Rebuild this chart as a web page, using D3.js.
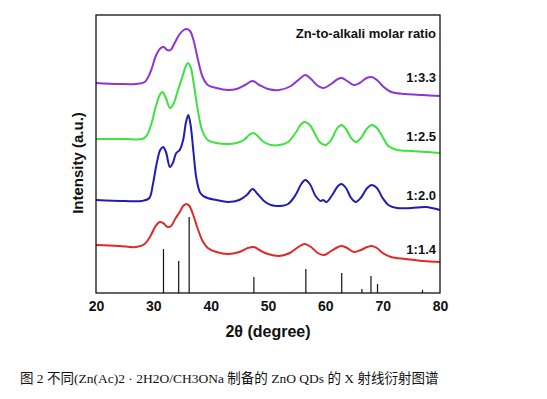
<!DOCTYPE html>
<html>
<head>
<meta charset="utf-8">
<script src="https://cdn.jsdelivr.net/npm/d3@7"></script>
<style>
  body { margin: 0; background: #fff; }
  svg text { font-family: "Liberation Sans", Arial, sans-serif; font-weight: bold; fill: #111; }
  .caption { font-family: "Liberation Serif", "Noto Sans CJK SC", serif; font-weight: normal; fill: #111; }
</style>
</head>
<body>
<svg id="chart" width="547" height="399"></svg>
<script>
// XRD patterns of ZnO QDs, one curve per Zn-to-alkali ratio.
// Each curve: [2theta, intensity (a.u., offset stacked)]
const purple33 = [[20,210],[24,209],[27,209],[28.5,211],[29.5,221],[30.5,238],[31.3,245],[31.8,246],[32.4,243],[33,243],[33.8,251],[34.6,259],[35.3,263],[35.8,264],[36.4,262],[37,253],[37.8,233],[38.6,216],[39.5,208],[41,205],[43,203],[44.5,204],[46,208],[47.3,212],[48.5,208],[50,204],[52,203],[54,207],[55.5,214],[56.5,218],[57.5,214],[58.5,208],[59.7,205],[61,209],[62.2,214],[62.9,215],[63.8,212],[65,208],[66,210],[67.2,215],[68.1,216],[69,213],[70,207],[71.5,201],[74,199],[77,198],[80,197]];
const green25 = [[20,154],[25,154],[28,154],[28.8,157],[29.6,168],[30.5,188],[31.2,199],[31.6,201],[32.2,195],[32.9,185],[33.5,189],[34.3,203],[35,215],[35.6,226],[36,230],[36.5,226],[37,211],[37.7,185],[38.5,163],[39.5,153],[41,150],[43,149],[44.5,150],[45.8,153],[46.7,158],[47.4,160],[48.2,157],[49,152],[50.5,148],[52,148],[53.5,151],[54.8,160],[55.8,169],[56.5,171],[57.3,168],[58.2,159],[59,151],[60,148],[61,153],[62,164],[62.8,168],[63.6,164],[64.5,155],[65.3,151],[66.2,155],[67.2,164],[68.1,168],[69,165],[70,156],[71,147],[72.5,143],[75,142],[78,141],[80,140]];
const blue20 = [[20,93],[25,92],[28,92],[29.3,95],[29.9,108],[30.6,130],[31.2,143],[31.7,146],[32.2,141],[32.9,126],[33.4,130],[34,140],[34.6,143],[35.2,153],[35.7,171],[36.1,178],[36.5,168],[37,141],[37.5,115],[38.2,100],[39,96],[41,93],[43,91],[45,93],[46.3,98],[47.3,104],[48.2,99],[49.3,92],[50.5,88],[52,87],[53.5,89],[54.8,98],[55.8,109],[56.5,113],[57.3,109],[58.3,97],[59.2,92],[59.6,93],[60.2,91],[61.2,98],[62.2,107],[62.8,109],[63.6,105],[64.5,95],[65.3,91],[66.3,96],[67.3,105],[68.1,108],[69,105],[70,95],[71,88],[72.5,85],[75,85],[77.5,86],[80,83]];
const red14 = [[20,48],[24,47],[27,46],[28.5,49],[29.5,57],[30.4,67],[31.1,71],[31.7,70],[32.5,66],[33.1,67],[33.8,74],[34.6,81],[35.2,87],[35.8,89],[36.3,87],[36.9,79],[37.7,65],[38.6,52],[39.5,45],[41,41],[43,39],[45,41],[46.5,45],[47.5,46],[48.5,43],[50,39],[52,37],[53.8,40],[55.3,46],[56.4,49],[57.5,46],[58.7,40],[59.8,38],[61,42],[62.2,46],[62.9,47],[63.8,45],[65,41],[66.2,43],[67.3,46],[68.1,47],[69,45],[70,40],[71.5,36],[74,34],[77,32],[80,31]];

// standard ZnO reference lines (stick pattern)
const stickPos = [31.77, 34.42, 36.25, 47.54, 56.60, 62.86, 66.38, 67.96, 69.10, 76.95];
const stickHeight = [44, 32, 76, 16, 24, 20, 4, 17, 9, 3];

const seriesLabels = ['1:3.3', '1:2.5', '1:2.0', '1:1.4'];
const seriesLabelY = [216, 157, 98, 44];   // label positions in a.u.
const xTicks = [20, 30, 40, 50, 60, 70, 80];

const series = [purple33, green25, blue20, red14];
const colors = ['#8e35d6', '#3ee23e', '#1e1eb4', '#e02828'];

const svg = d3.select('#chart');
const m = {left: 96, right: 440, top: 15, bottom: 293};

const x = d3.scaleLinear().domain([20, 80]).range([m.left, m.right]);
const y = d3.scaleLinear().domain([0, 278]).range([m.bottom, m.top]);

// sticks
svg.append('g').selectAll('line')
  .data(stickPos)
  .join('line')
  .attr('x1', d => x(d)).attr('x2', d => x(d))
  .attr('y1', y(0)).attr('y2', (d, i) => y(stickHeight[i]))
  .attr('stroke', '#111').attr('stroke-width', 1.2);

// curves
const line = d3.line()
  .x(d => x(d[0])).y(d => y(d[1]))
  .curve(d3.curveCatmullRom.alpha(0.5));

svg.append('g').selectAll('path')
  .data(series)
  .join('path')
  .attr('d', line)
  .attr('fill', 'none')
  .attr('stroke', (d, i) => colors[i])
  .attr('stroke-width', 2);

// frame
svg.append('rect')
  .attr('x', m.left).attr('y', m.top)
  .attr('width', m.right - m.left).attr('height', m.bottom - m.top)
  .attr('fill', 'none').attr('stroke', '#111').attr('stroke-width', 1.3);

// x axis labels (no tick marks in the original)
const xAxis = d3.axisBottom(x).tickValues(xTicks).tickSize(0).tickPadding(8);
const gx = svg.append('g').attr('transform', `translate(0,${m.bottom})`).call(xAxis);
gx.select('.domain').remove();
gx.selectAll('text').style('font-size', '14px').style('font-family', '"Liberation Sans", Arial, sans-serif').style('font-weight', 'bold');

svg.append('text')
  .attr('x', (m.left + m.right) / 2).attr('y', 337)
  .attr('text-anchor', 'middle').style('font-size', '16px')
  .text('2θ (degree)');

svg.append('text')
  .attr('transform', `translate(83,${(m.top + m.bottom) / 2 + 9}) rotate(-90)`)
  .attr('text-anchor', 'middle').style('font-size', '15px')
  .text('Intensity (a.u.)');

// legend title and ratio labels
svg.append('text')
  .attr('x', 436).attr('y', 38)
  .attr('text-anchor', 'end').style('font-size', '13px')
  .text('Zn-to-alkali molar ratio');

svg.append('g').selectAll('text')
  .data(seriesLabels)
  .join('text')
  .attr('x', 436).attr('y', (d, i) => y(seriesLabelY[i]) + 5)
  .attr('text-anchor', 'end').style('font-size', '13px')
  .text(d => d);

// figure caption
svg.append('text')
  .attr('class', 'caption')
  .attr('x', 20).attr('y', 383)
  .style('font-size', '13.5px')
  .text('图 2 不同(Zn(Ac)2 · 2H2O/CH3ONa 制备的  ZnO QDs 的 X 射线衍射图谱');
</script>
</body>
</html>
